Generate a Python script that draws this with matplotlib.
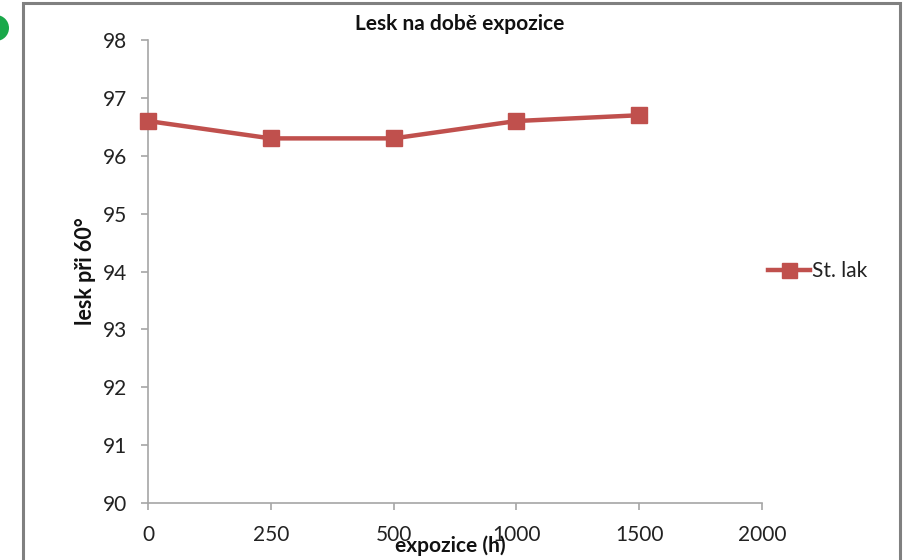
import matplotlib.pyplot as plt
from matplotlib.patches import Rectangle, Ellipse

# expozice (h) a lesk při 60°
hours = ['0', '250', '500', '1000', '1500', '2000']
lesk = [96.6, 96.3, 96.3, 96.6, 96.7]
series_name = 'St. lak'

W, H = 909, 560
plt.rcParams['font.family'] = ['Lato', 'DejaVu Sans']

fig = plt.figure(figsize=(W / 100, H / 100), dpi=100)
fig.patch.set_facecolor('white')

# outer chart frame
fig.patches.append(Rectangle((23 / W, -0.05), 877 / W, 1.05 - 3 / H,
                             transform=fig.transFigure, fill=False,
                             edgecolor='#808080', linewidth=2.2))
fig.patches.append(Ellipse((-4 / W, 1 - 28 / H), 26 / W, 26 / H,
                           transform=fig.transFigure,
                           facecolor='#1aa84a', edgecolor='none'))

ax = fig.add_axes([148 / W, 1 - 503 / H, (762 - 148) / W, (503 - 40) / H])
x = list(range(len(lesk)))
ax.plot(x, lesk, color='#C0504D', linewidth=3.2, marker='s', markersize=12,
        markeredgecolor='#C0504D', label=series_name, clip_on=False, zorder=5)

ax.set_xlim(0, len(hours) - 1)
ax.set_ylim(90, 98)
ax.set_xticks(range(len(hours)))
ax.set_xticklabels(hours)
ax.set_yticks(range(90, 99))

for s in ['top', 'right']:
    ax.spines[s].set_visible(False)
for s in ['left', 'bottom']:
    ax.spines[s].set_color('#A6A6A6')
    ax.spines[s].set_linewidth(1.2)
ax.tick_params(axis='both', colors='#A6A6A6', length=5, width=1.2,
               labelcolor='#222222', labelsize=15)
ax.tick_params(axis='x', pad=11)
ax.tick_params(axis='y', pad=10)

fig.text(460 / W, 1 - 24 / H, 'Lesk na době expozice', ha='center', va='center',
         fontsize=15, fontweight='bold', color='#111111')
fig.text(450 / W, 1 - 546 / H, 'expozice (h)', ha='center', va='center',
         fontsize=15, fontweight='bold', color='#111111')
fig.text(85 / W, 1 - 271 / H, 'lesk při 60°', ha='center', va='center',
         rotation=90, fontsize=15.5, fontweight='bold', color='#111111')

leg = fig.legend(loc='center left', bbox_to_anchor=(760 / W, 1 - 271 / H),
                 frameon=False, fontsize=15, handlelength=2.0,
                 handletextpad=0.1, borderaxespad=0, markerscale=0.9)
for t in leg.get_texts():
    t.set_color('#222222')

fig.savefig('out.png', dpi=100)
